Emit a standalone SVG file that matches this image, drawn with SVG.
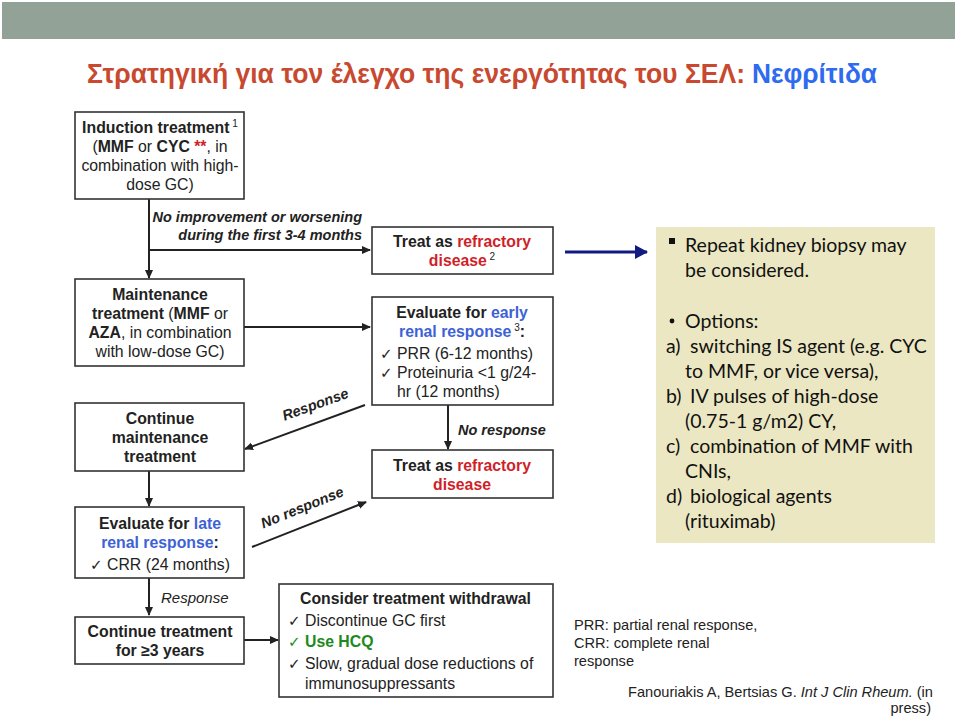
<svg xmlns="http://www.w3.org/2000/svg" width="960" height="716" viewBox="0 0 960 716">
<defs>
<style>
.box{fill:#fff;stroke:#333;stroke-width:1.6}
.t{font-family:"Liberation Sans",Arial,"DejaVu Sans",sans-serif;font-size:15.8px;fill:#222}
.c{text-anchor:middle}
.b{font-weight:bold}
.red{fill:#d11f2a}
.blue{fill:#3d62d6}
.grn{fill:#1e8a1e}
.ck{font-family:"DejaVu Sans",sans-serif;font-size:15px}
.sup{font-size:10px}
.lbl{font-family:"Liberation Sans",Arial,sans-serif;font-size:14.5px;font-weight:bold;font-style:italic;fill:#222}
.cal{font-family:"Lato","Open Sans",sans-serif;font-size:19.5px;fill:#111}
.fn{font-family:"Liberation Sans",Arial,sans-serif;font-size:14.6px;fill:#222}
.ln{stroke:#222;stroke-width:2;fill:none}
.ttl{font-family:"Liberation Sans",Arial,sans-serif;font-size:28px;font-weight:bold}
</style>
<marker id="ah" markerWidth="10" markerHeight="10" refX="8" refY="5" orient="auto" markerUnits="userSpaceOnUse">
<path d="M0,1 L9,5 L0,9 Z" fill="#222"/>
</marker>
<marker id="ahb" markerWidth="14" markerHeight="14" refX="12" refY="7" orient="auto" markerUnits="userSpaceOnUse">
<path d="M0,0 L13,7 L0,14 Z" fill="#101a80"/>
</marker>
</defs>
<rect x="0" y="0" width="960" height="716" fill="#fff"/>
<rect id="topbar" x="2" y="2" width="953" height="37" fill="#93a297"/>
<g id="title">
<text class="ttl" x="745" y="83" text-anchor="end" fill="#c8492f" textLength="658" lengthAdjust="spacingAndGlyphs">Στρατηγική για τον έλεγχο της ενεργότητας του ΣΕΛ:</text>
<text class="ttl" x="752" y="83" fill="#2f6bef" textLength="125" lengthAdjust="spacingAndGlyphs">Νεφρίτιδα</text>
</g>

<g id="connectors">
<line class="ln" x1="149" y1="199" x2="149" y2="278" marker-end="url(#ah)"/>
<line class="ln" x1="149" y1="250" x2="370" y2="250" marker-end="url(#ah)"/>
<line class="ln" x1="244" y1="327" x2="370" y2="327" marker-end="url(#ah)"/>
<line class="ln" x1="365" y1="405" x2="245" y2="449" marker-end="url(#ah)"/>
<line class="ln" x1="149" y1="471" x2="149" y2="506" marker-end="url(#ah)"/>
<line class="ln" x1="252" y1="547" x2="366" y2="502" marker-end="url(#ah)"/>
<line class="ln" x1="448" y1="405" x2="448" y2="449" marker-end="url(#ah)"/>
<line class="ln" x1="149" y1="578" x2="149" y2="615" marker-end="url(#ah)"/>
<line class="ln" x1="244" y1="640" x2="278" y2="640" marker-end="url(#ah)"/>
<line x1="565" y1="252" x2="647" y2="252" stroke="#101a80" stroke-width="3" marker-end="url(#ahb)"/>
<text class="lbl" text-anchor="end" x="362" y="222">No improvement or worsening</text>
<text class="lbl" text-anchor="end" x="362" y="240">during the first 3-4 months</text>
<text class="lbl" transform="translate(317,409) rotate(-20)" text-anchor="middle">Response</text>
<text class="lbl" transform="translate(304,512) rotate(-22)" text-anchor="middle">No response</text>
<text class="lbl" x="458" y="435">No response</text>
<text class="t" x="161" y="603" font-style="italic" style="font-size:15px">Response</text>
</g>

<g id="induction">
<rect class="box" x="75" y="112" width="169" height="87"/>
<text class="t c" x="160" y="133"><tspan class="b">Induction treatment</tspan><tspan class="sup" dy="-6"> 1</tspan></text>
<text class="t c" x="160" y="152">(<tspan class="b">MMF</tspan> or <tspan class="b">CYC</tspan> <tspan class="b red">**</tspan>, in</text>
<text class="t c" x="160" y="171">combination with high-</text>
<text class="t c" x="160" y="190">dose GC)</text>
</g>

<g id="maintenance">
<rect class="box" x="75" y="279" width="169" height="87"/>
<text class="t c b" x="160" y="300">Maintenance</text>
<text class="t c" x="160" y="319"><tspan class="b">treatment</tspan> (<tspan class="b">MMF</tspan> or</text>
<text class="t c" x="160" y="338"><tspan class="b">AZA</tspan>, in combination</text>
<text class="t c" x="160" y="357">with low-dose GC)</text>
</g>

<g id="continue-maintenance">
<rect class="box" x="75" y="403" width="169" height="68"/>
<text class="t c b" x="160" y="424">Continue</text>
<text class="t c b" x="160" y="443">maintenance</text>
<text class="t c b" x="160" y="462">treatment</text>
</g>

<g id="evaluate-late">
<rect class="box" x="75" y="507" width="169" height="71"/>
<text class="t c b" x="160" y="529">Evaluate for <tspan class="blue">late</tspan></text>
<text class="t c b" x="160" y="548"><tspan class="blue">renal response</tspan>:</text>
<text class="t c" x="160" y="570"><tspan class="ck">✓</tspan> CRR (24 months)</text>
</g>

<g id="continue-3y">
<rect class="box" x="75" y="617" width="169" height="47"/>
<text class="t c b" x="160" y="637">Continue treatment</text>
<text class="t c b" x="160" y="656">for ≥3 years</text>
</g>

<g id="withdrawal">
<rect class="box" x="279" y="584" width="274" height="113"/>
<text class="t b" x="300" y="604">Consider treatment withdrawal</text>
<text class="t" x="288" y="626"><tspan class="ck">✓</tspan> Discontinue GC first</text>
<text class="t" x="288" y="647"><tspan class="ck grn">✓</tspan> <tspan class="b grn">Use HCQ</tspan></text>
<text class="t" x="288" y="669"><tspan class="ck">✓</tspan> Slow, gradual dose reductions of</text>
<text class="t" x="305" y="689">immunosuppressants</text>
</g>

<g id="refractory-1">
<rect class="box" x="372" y="227" width="181" height="47"/>
<text class="t c b" x="462" y="247">Treat as <tspan class="red">refractory</tspan></text>
<text class="t c b" x="462" y="266"><tspan class="red">disease</tspan><tspan class="sup" font-weight="normal" dy="-6"> 2</tspan></text>
</g>

<g id="evaluate-early">
<rect class="box" x="372" y="297" width="181" height="108"/>
<text class="t c b" x="462" y="318">Evaluate for <tspan class="blue">early</tspan></text>
<text class="t c b" x="462" y="337"><tspan class="blue">renal response</tspan><tspan class="sup" font-weight="normal" dy="-6"> 3</tspan><tspan dy="6">:</tspan></text>
<text class="t" x="380" y="359"><tspan class="ck">✓</tspan> PRR (6-12 months)</text>
<text class="t" x="380" y="378"><tspan class="ck">✓</tspan> Proteinuria &lt;1 g/24-</text>
<text class="t" x="397" y="397">hr (12 months)</text>
</g>

<g id="refractory-2">
<rect class="box" x="372" y="450" width="181" height="48"/>
<text class="t c b" x="462" y="471">Treat as <tspan class="red">refractory</tspan></text>
<text class="t c b red" x="462" y="490">disease</text>
</g>

<g id="options">
<rect x="656" y="227" width="279" height="316" fill="#ebe7c2"/>
<rect x="669" y="238" width="6" height="6" fill="#111"/>
<text class="cal" x="685" y="252">Repeat kidney biopsy may</text>
<text class="cal" x="685" y="277">be considered.</text>
<circle cx="672" cy="321" r="2.4" fill="#111"/>
<text class="cal" x="685" y="328">Options:</text>
<text class="cal" x="666" y="353">a) <tspan x="690">switching IS agent (e.g. CYC</tspan></text>
<text class="cal" x="685" y="378">to MMF, or vice versa),</text>
<text class="cal" x="666" y="403">b) <tspan x="690">IV pulses of high-dose</tspan></text>
<text class="cal" x="685" y="428">(0.75-1 g/m2) CY,</text>
<text class="cal" x="666" y="453">c) <tspan x="690">combination of MMF with</tspan></text>
<text class="cal" x="685" y="478">CNIs,</text>
<text class="cal" x="666" y="503">d) <tspan x="690">biological agents</tspan></text>
<text class="cal" x="685" y="528">(rituximab)</text>
</g>

<g id="footnote">
<text class="fn" x="574" y="630">PRR: partial renal response,</text>
<text class="fn" x="574" y="648">CRR: complete renal</text>
<text class="fn" x="574" y="666">response</text>
<text class="fn" x="628" y="697">Fanouriakis A, Bertsias G. <tspan font-style="italic">Int J Clin Rheum.</tspan> (in</text>
<text class="fn" x="931" y="713" text-anchor="end">press)</text>
</g>
</svg>
